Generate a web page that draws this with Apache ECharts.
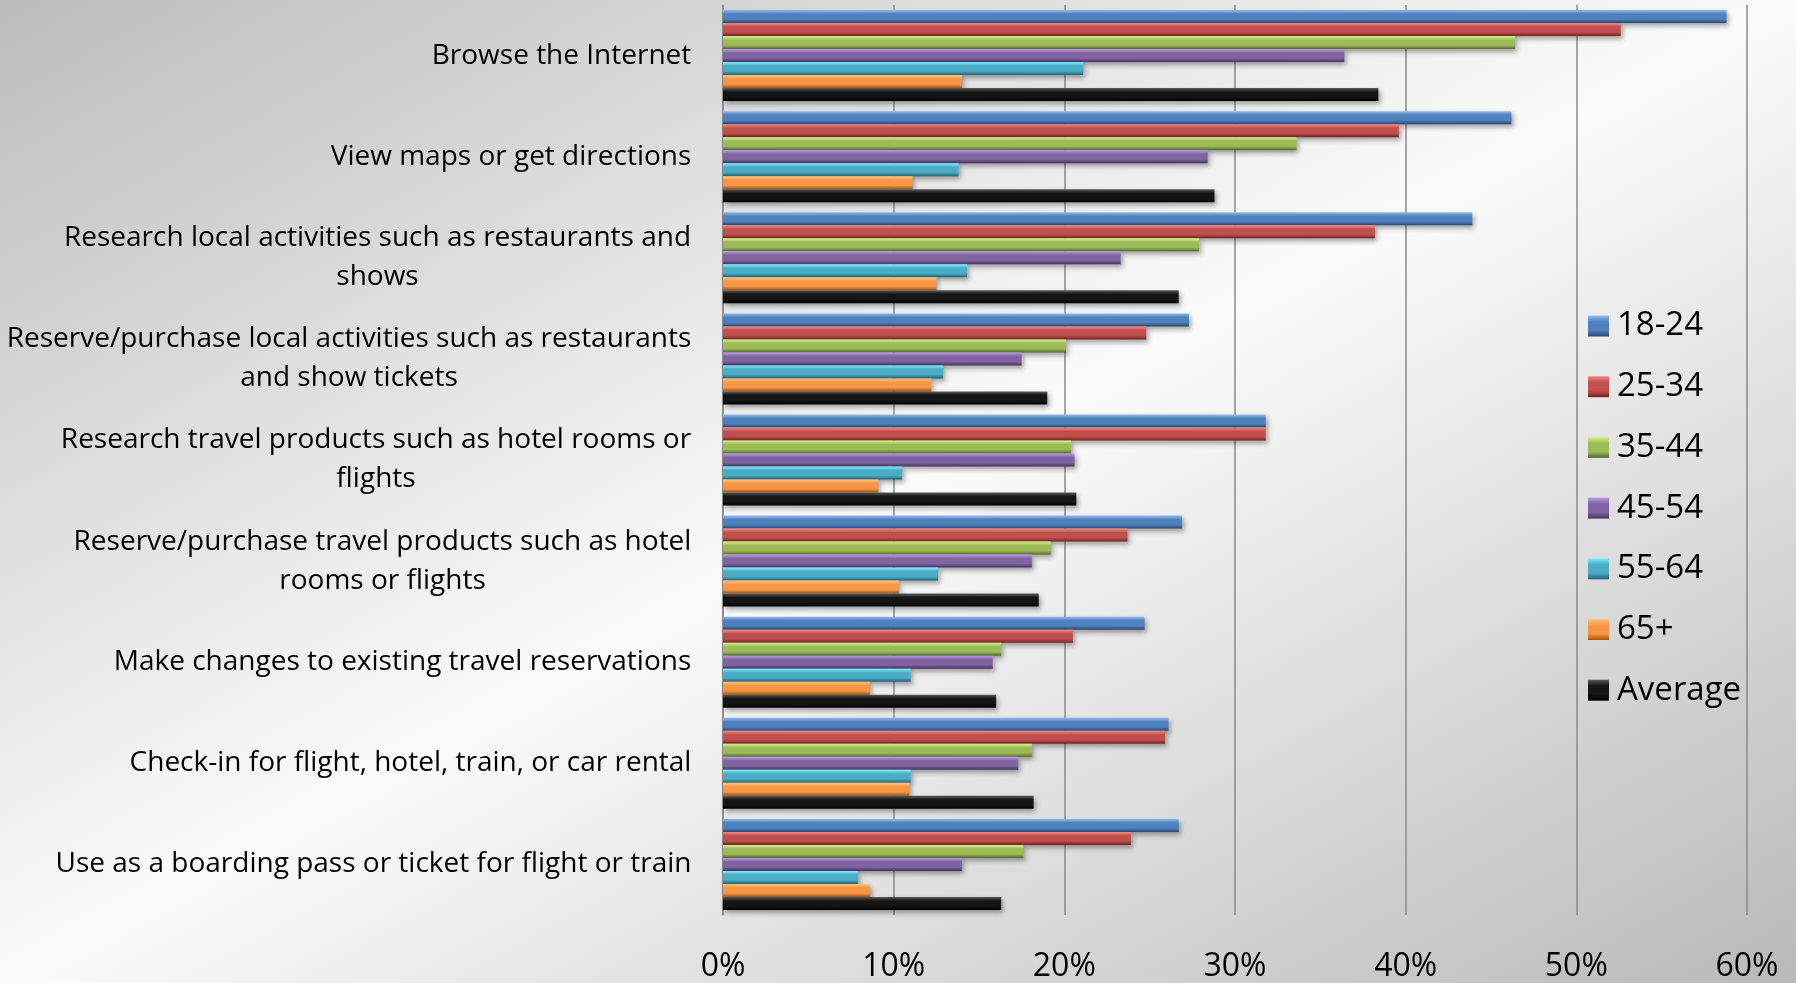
<!DOCTYPE html>
<html>
<head>
<meta charset="utf-8">
<script src="https://cdn.jsdelivr.net/npm/echarts@6/dist/echarts.min.js"></script>
<style>
  html, body { margin: 0; padding: 0; }
  #chart {
    width: 1796px; height: 983px;
    background: linear-gradient(to bottom right, #bcbcbc 0%, #fbfbfb 50%, #b9b9b9 100%);
  }
</style>
</head>
<body>
<div id="chart"></div>
<script>
// Activities, top to bottom
const categories = [
  'Browse the Internet',
  'View maps or get directions',
  'Research local activities such as restaurants and\nshows',
  'Reserve/purchase local activities such as restaurants\nand show tickets',
  'Research travel products such as hotel rooms or\nflights',
  'Reserve/purchase travel products such as hotel\nrooms or flights',
  'Make changes to existing travel reservations',
  'Check-in for flight, hotel, train, or car rental',
  'Use as a boarding pass or ticket for flight or train'
];

const seriesNames = ['18-24', '25-34', '35-44', '45-54', '55-64', '65+', 'Average'];

// Share of respondents (%) per age group, in category order
const age18to24 = [58.8, 46.2, 43.9, 27.3, 31.8, 26.9, 24.7, 26.1, 26.7];
const age25to34 = [52.6, 39.6, 38.2, 24.8, 31.8, 23.7, 20.5, 25.9, 23.9];
const age35to44 = [46.4, 33.6, 27.9, 20.1, 20.4, 19.2, 16.3, 18.1, 17.6];
const age45to54 = [36.4, 28.4, 23.3, 17.5, 20.6, 18.1, 15.8, 17.3, 14.0];
const age55to64 = [21.1, 13.8, 14.3, 12.9, 10.5, 12.6, 11.0, 11.0, 7.9];
const age65plus = [14.0, 11.1, 12.5, 12.2, 9.1, 10.3, 8.6, 10.9, 8.6];
const average   = [38.4, 28.8, 26.7, 19.0, 20.7, 18.5, 16.0, 18.2, 16.3];

const seriesValues = [age18to24, age25to34, age35to44, age45to54, age55to64, age65plus, average];

// Value axis ticks (%)
const xMin = 0, xMax = 60, xStep = 10;

// light / base / dark shades for each series
const palette = [
  ['#8fbdf2', '#4f81bd', '#284873'],
  ['#f58a86', '#c0504d', '#72221f'],
  ['#d9f28a', '#9bbb59', '#55692c'],
  ['#bd9de6', '#8064a2', '#45315f'],
  ['#7eeeff', '#4bacc6', '#1f6479'],
  ['#ffc77a', '#f79646', '#a4560f'],
  ['#5a5a5a', '#151515', '#000000']
];

function barFill(c) {
  return new echarts.graphic.LinearGradient(0, 0, 0, 1, [
    { offset: 0, color: c[0] },
    { offset: 0.3, color: c[1] },
    { offset: 0.7, color: c[1] },
    { offset: 1, color: c[2] }
  ]);
}

// Category labels: lines centred on each other, block right-aligned to the axis
const labelFont = 'Open Sans';
const labelSize = 28;
const measureCtx = document.createElement('canvas').getContext('2d');
measureCtx.font = labelSize + 'px "' + labelFont + '"';
const rich = {};
categories.forEach((c, i) => {
  const w = Math.max(...c.split('\n').map(l => measureCtx.measureText(l).width));
  rich['c' + i] = {
    width: Math.ceil(w) + 1, align: 'center',
    fontFamily: labelFont, fontSize: labelSize, lineHeight: 39, color: '#000'
  };
});

const chart = echarts.init(document.getElementById('chart'), null, { renderer: 'canvas' });

chart.setOption({
  backgroundColor: 'transparent',
  animation: false,
  grid: { left: 723, right: 49, top: 5, bottom: 66, containLabel: false },
  legend: {
    orient: 'vertical',
    left: 1583, top: 304,
    icon: 'rect',
    itemWidth: 21, itemHeight: 21,
    itemGap: 26.7,
    data: seriesNames,
    textStyle: { fontFamily: labelFont, fontSize: 33, color: '#000', lineHeight: 34, padding: [0, 0, 0, 3] }
  },
  xAxis: {
    type: 'value',
    min: xMin, max: xMax, interval: xStep,
    axisLine: { show: false },
    axisTick: { show: false },
    splitLine: { show: true, lineStyle: { color: '#8a8a8a', width: 1.5 } },
    axisLabel: {
      formatter: '{value}%', margin: 36,
      fontFamily: labelFont, fontSize: 32, color: '#000'
    }
  },
  yAxis: {
    type: 'category',
    inverse: true,
    data: categories,
    axisLine: { show: true, lineStyle: { color: '#8a8a8a', width: 1.5 } },
    axisTick: { show: false },
    axisLabel: {
      margin: 31,
      formatter: (v, i) => v.split('\n').map(l => '{c' + i + '|' + l + '}').join('\n'),
      rich: rich
    }
  },
  series: seriesNames.map((name, k) => ({
    name: name,
    type: 'bar',
    data: seriesValues[k],
    barWidth: 13,
    barGap: '0%',
    itemStyle: {
      color: barFill(palette[k]),
      shadowColor: 'rgba(0,0,0,0.35)',
      shadowBlur: 5,
      shadowOffsetX: 2,
      shadowOffsetY: 3
    }
  }))
});
</script>
</body>
</html>
